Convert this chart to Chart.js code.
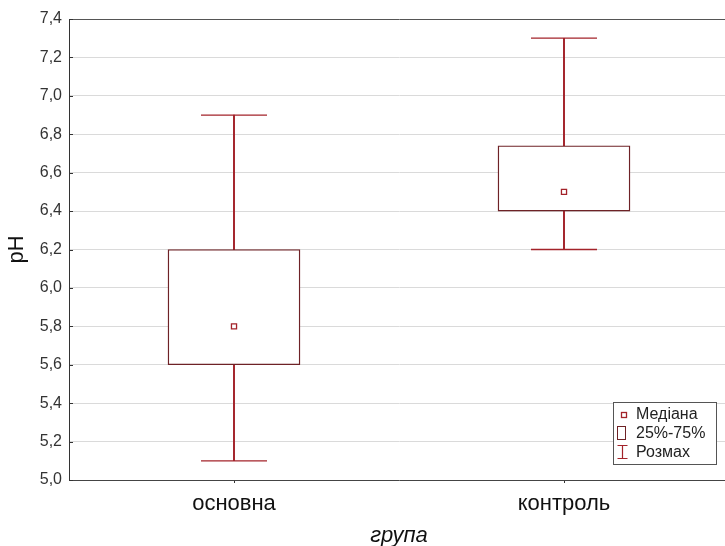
<!DOCTYPE html>
<html>
<head>
<meta charset="utf-8">
<script src="https://cdn.jsdelivr.net/npm/chart.js@4/dist/chart.umd.min.js"></script>
<style>
  html, body { margin: 0; padding: 0; background: #fff; overflow: hidden; }
  #wrap { width: 725px; height: 546px; overflow: hidden; }
  canvas { display: block; }
</style>
</head>
<body>
<div id="wrap"><canvas id="c" width="735" height="546"></canvas></div>
<script>
// Box-plot summary of pH per group
const groups = ['основна', 'контроль'];
const minVals = [5.1, 6.2];
const q1Vals = [5.6, 6.4];
const medianVals = [5.8, 6.5];
const q3Vals = [6.2, 6.74];
const maxVals = [6.9, 7.3];

const legendLabels = ['Медіана', '25%-75%', 'Розмах'];
const yTitle = 'pH';
const xTitle = 'група';

const FONT = "'Liberation Sans', Arial, sans-serif";
const BOX_COLOR = '#6e2226';
const WHISKER_COLOR = '#a3232a';

// inward tick marks on the value axis
const innerTicks = {
  id: 'innerTicks',
  afterDraw(chart) {
    const y = chart.scales.y;
    const ctx = chart.ctx;
    ctx.save();
    ctx.strokeStyle = '#333';
    ctx.lineWidth = 1;
    y.ticks.forEach((t, i) => {
      const py = Math.round(y.getPixelForTick(i)) + 0.5;
      ctx.beginPath();
      ctx.moveTo(chart.chartArea.left, py);
      ctx.lineTo(chart.chartArea.left + 4, py);
      ctx.stroke();
    });
    ctx.restore();
  }
};

// legend box in the lower right corner of the plot
const boxLegend = {
  id: 'boxLegend',
  afterDraw(chart) {
    const ctx = chart.ctx;
    const x0 = 613.5, y0 = 402.5, w = 103, h = 62;
    ctx.save();
    ctx.fillStyle = '#fff';
    ctx.fillRect(x0, y0, w, h);
    ctx.strokeStyle = '#555';
    ctx.lineWidth = 1;
    ctx.strokeRect(x0, y0, w, h);

    // median marker
    ctx.strokeStyle = WHISKER_COLOR;
    ctx.lineWidth = 1.3;
    ctx.fillStyle = '#fff';
    ctx.fillRect(621.5, 412.5, 5, 5);
    ctx.strokeRect(621.5, 412.5, 5, 5);

    // box marker
    ctx.strokeStyle = BOX_COLOR;
    ctx.lineWidth = 1;
    ctx.strokeRect(617.5, 426.5, 8, 13);

    // range marker
    ctx.strokeStyle = WHISKER_COLOR;
    ctx.lineWidth = 1.2;
    ctx.beginPath();
    ctx.moveTo(617.5, 445.5); ctx.lineTo(627.5, 445.5);
    ctx.moveTo(622.5, 445.5); ctx.lineTo(622.5, 458.5);
    ctx.moveTo(617.5, 458.5); ctx.lineTo(627.5, 458.5);
    ctx.stroke();

    ctx.fillStyle = '#222';
    ctx.font = '16px ' + FONT;
    ctx.textBaseline = 'middle';
    ctx.textAlign = 'left';
    ctx.fillText(legendLabels[0], 636, 415);
    ctx.fillText(legendLabels[1], 636, 434);
    ctx.fillText(legendLabels[2], 636, 453);
    ctx.restore();
  }
};

const boxRanges = groups.map((g, i) => [q1Vals[i], q3Vals[i]]);
const whiskerRanges = groups.map((g, i) => [minVals[i], maxVals[i]]);

new Chart(document.getElementById('c'), {
  type: 'bar',
  data: {
    labels: groups,
    datasets: [
      {
        type: 'bar',
        data: whiskerRanges,
        grouped: false,
        barThickness: 1.3,
        backgroundColor: WHISKER_COLOR,
        borderWidth: 0,
        order: 4
      },
      {
        type: 'bar',
        data: boxRanges,
        grouped: false,
        barThickness: 132,
        backgroundColor: '#ffffff',
        borderColor: BOX_COLOR,
        borderWidth: 1.4,
        borderSkipped: false,
        order: 3
      },
      {
        type: 'line',
        data: minVals,
        showLine: false,
        pointStyle: 'line',
        pointRadius: 33,
        pointHoverRadius: 33,
        pointBorderWidth: 1.3,
        pointBorderColor: WHISKER_COLOR,
        order: 2
      },
      {
        type: 'line',
        data: maxVals,
        showLine: false,
        pointStyle: 'line',
        pointRadius: 33,
        pointHoverRadius: 33,
        pointBorderWidth: 1.3,
        pointBorderColor: WHISKER_COLOR,
        order: 2
      },
      {
        type: 'line',
        data: medianVals,
        showLine: false,
        pointStyle: 'rect',
        pointRadius: 3.6,
        pointHoverRadius: 3.6,
        pointBorderWidth: 1.3,
        pointBorderColor: WHISKER_COLOR,
        pointBackgroundColor: '#ffffff',
        order: 1
      }
    ]
  },
  options: {
    responsive: false,
    animation: false,
    devicePixelRatio: 1,
    layout: { autoPadding: false, padding: { top: 19, right: 6, bottom: 0, left: 0 } },
    plugins: {
      legend: { display: false },
      tooltip: { enabled: false }
    },
    scales: {
      x: {
        type: 'category',
        offset: true,
        afterFit(scale) { scale.height = 66; },
        grid: {
          offset: false,
          drawOnChartArea: false,
          drawTicks: true,
          tickLength: 3,
          color: '#333'
        },
        border: { display: true, color: '#444', width: 1 },
        ticks: {
          padding: 8,
          color: '#111',
          font: { family: FONT, size: 22 }
        },
        title: {
          display: true,
          text: xTitle,
          color: '#111',
          padding: { top: 0, bottom: 0 },
          font: { family: FONT, size: 22, style: 'italic', lineHeight: 0.9 }
        }
      },
      y: {
        min: 5.0,
        max: 7.4,
        afterFit(scale) { scale.width = 69; },
        grid: {
          drawTicks: false,
          color: (c) => (c.tick && Math.abs(c.tick.value - 7.4) < 1e-6) ? '#555' : '#dadada',
          lineWidth: 1
        },
        border: { display: true, color: '#333', width: 1 },
        ticks: {
          stepSize: 0.2,
          padding: 7,
          color: '#333',
          font: { family: FONT, size: 16 },
          callback: (v) => Number(v).toFixed(1).replace('.', ',')
        },
        title: {
          display: true,
          text: yTitle,
          color: '#111',
          padding: { top: 4, bottom: 0 },
          font: { family: FONT, size: 22 }
        }
      }
    }
  },
  plugins: [innerTicks, boxLegend]
});
</script>
</body>
</html>
